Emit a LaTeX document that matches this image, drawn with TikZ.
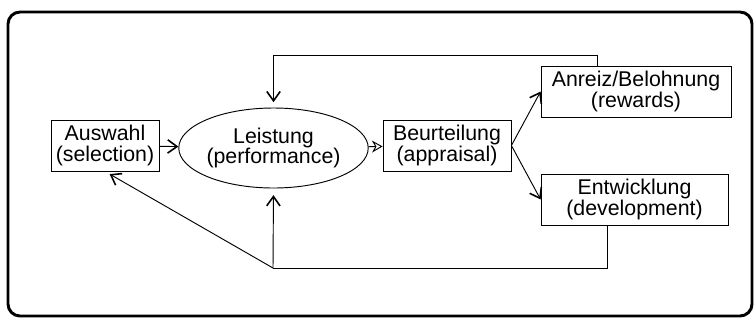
\documentclass[tikz,border=0pt]{standalone}
\usepackage{fontspec}
\setmainfont{Liberation Sans}
\usetikzlibrary{arrows.meta, positioning, shapes.geometric}

\begin{document}
\begin{tikzpicture}[
    x=0.75pt, y=-0.75pt,
    >={Straight Barb[length=7pt, width=10pt, line width=1.2pt]},
    box/.style={draw, line width=0.6pt, rectangle, minimum height=38.25pt,
                inner sep=0pt, align=center,
                font=\fontsize{16}{15.5}\selectfont},
    oval/.style={draw, line width=0.7pt, ellipse, minimum width=140pt,
                 minimum height=60pt, inner sep=0pt, align=center,
                 font=\fontsize{16}{15.5}\selectfont},
    link/.style={->, line width=0.7pt}
  ]
  \useasboundingbox (0,0) rectangle (756,326);

  % Frame
  \draw[line width=2.2pt, rounded corners=9pt] (8,12) rectangle (752,316);

  % Boxes
  \node[box, minimum width=81pt] (auswahl) at (105,145.5)
       {Auswahl\\(selection)};
  \node[oval] (leistung) at (273.5,148) {Leistung\\(performance)};
  \node[box, minimum width=96pt] (beurteilung) at (447,145.5)
       {Beurteilung\\(appraisal)};
  \node[box, minimum width=142.5pt] (anreiz) at (636,91.5)
       {Anreiz/Belohnung\\(rewards)};
  \node[box, minimum width=140.25pt] (entwicklung) at (634.5,199.5)
       {Entwicklung\\(development)};

  % Feedback corners
  \coordinate (fbtop) at (597,55);
  \coordinate (fbbot) at (607,268);
  \coordinate (hub) at (273,268);

  % Main flow
  \draw[link] (auswahl) -- (leistung);
  \draw[line width=0.7pt, -{Stealth[open, length=8pt, width=9pt]}]
    (leistung) -- (beurteilung);
  \draw[link] (beurteilung.east) -- (anreiz.west);
  \draw[link] (beurteilung.east) -- (entwicklung.west);

  % Feedback loops
  \draw[link, shorten >=4pt] (anreiz.north -| fbtop) -- (fbtop)
    -- (fbtop -| leistung.north) -- (leistung.north);
  \draw[line width=0.7pt] (entwicklung.south -| fbbot) -- (fbbot) -- (hub);
  \draw[link, shorten >=5pt] (hub) -- (leistung.south);
  \draw[link, shorten >=4pt] (hub) -- (auswahl.south);
\end{tikzpicture}
\end{document}
